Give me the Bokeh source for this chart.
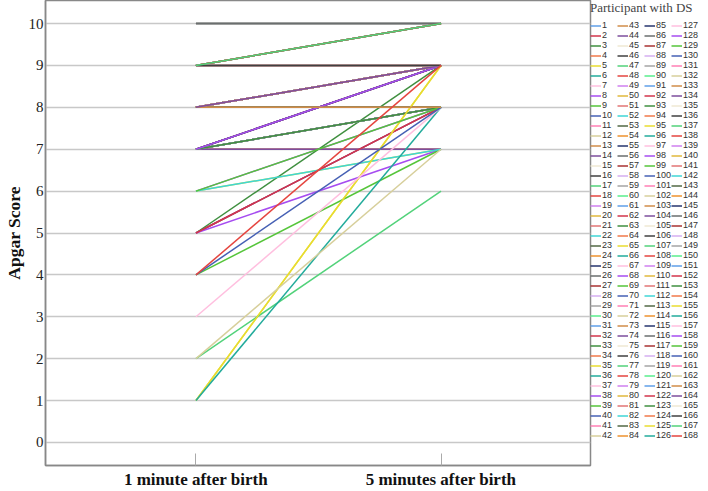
from bokeh.plotting import figure
from bokeh.models import Range1d, FixedTicker, Legend, LegendItem, ColumnDataSource
from bokeh.embed import file_html
from bokeh.resources import INLINE

# Apgar scores per participant (1..168)
apgar_1min = [
    8, 8, 9, 8, 9, 8, 9, 8, 7, 8,
    9, 8, 8, 8, 9, 9, 8, 7, 8, 9,
    8, 9, 8, 7, 9, 8, 8, 8, 9, 9,
    8, 9, 7, 8, 8, 9, 9, 7, 8, 10,
    8, 9, 8, 8, 9, 9, 8, 7, 8, 8,
    9, 9, 8, 7, 8, 9, 8, 7, 8, 8,
    9, 5, 8, 9, 8, 9, 8, 6, 8, 7,
    9, 8, 9, 8, 8, 10, 9, 8, 7, 8,
    9, 7, 9, 8, 8, 9, 7, 8, 9, 8,
    8, 9, 7, 8, 6, 9, 8, 7, 9, 8,
    8, 10, 9, 5, 9, 8, 7, 9, 8, 8,
    8, 9, 9, 8, 7, 8, 7, 9, 8, 9,
    8, 9, 5, 8, 1, 7, 9, 5, 4, 8,
    9, 8, 9, 7, 8, 8, 2, 9, 7, 8,
    9, 6, 7, 8, 9, 10, 9, 8, 7, 9,
    8, 5, 7, 8, 1, 1, 3, 7, 6, 4,
    9, 2, 8, 8, 9, 9, 9, 4,
]
apgar_5min = [
    9, 9, 9, 9, 10, 9, 9, 9, 8, 9,
    9, 9, 8, 9, 10, 9, 9, 9, 9, 9,
    9, 10, 9, 8, 9, 9, 8, 9, 9, 10,
    9, 9, 8, 9, 9, 10, 9, 9, 9, 10,
    9, 9, 8, 9, 10, 9, 9, 8, 9, 9,
    9, 10, 9, 9, 9, 9, 9, 8, 8, 9,
    9, 8, 9, 10, 9, 9, 9, 8, 9, 8,
    9, 9, 10, 8, 9, 10, 9, 9, 9, 9,
    10, 8, 9, 9, 9, 9, 7, 9, 10, 8,
    9, 9, 8, 9, 7, 10, 9, 9, 9, 9,
    9, 10, 9, 8, 10, 9, 8, 9, 9, 8,
    9, 10, 9, 9, 9, 9, 8, 9, 9, 10,
    9, 9, 9, 9, 9, 8, 10, 7, 7, 9,
    9, 8, 10, 7, 9, 8, 6, 9, 8, 9,
    10, 7, 9, 9, 9, 10, 10, 9, 8, 9,
    9, 8, 8, 9, 9, 8, 8, 9, 8, 8,
    9, 7, 8, 9, 9, 9, 10, 9,
]
time_labels = ["1 minute after birth", "5 minutes after birth"]
y_ticks = [0, 1, 2, 3, 4, 5, 6, 7, 8, 9, 10]

palette = [
    "#5f9fe8", "#d2354b", "#3f8f3f", "#f0784a", "#e8dc30", "#22ab9b",
    "#ffbfdf", "#a64cf0", "#55c53a", "#4660b4", "#ff7fb5", "#d7cf9b",
    "#d08c48", "#7d4e9d", "#efe9d3", "#404040", "#52d27a", "#e5453f",
    "#cf7fef", "#e0b83c", "#e27474", "#3fd6d6", "#526845", "#ee922e",
    "#26346e", "#6a6e6e", "#a83232", "#d5aef0", "#a5a5a5", "#58ee8c",
]

n = len(apgar_1min)
ids = [str(i + 1) for i in range(n)]
colors = [palette[i % len(palette)] for i in range(n)]
src = ColumnDataSource(dict(
    xs=[[1, 2] for _ in range(n)],
    ys=[[a, b] for a, b in zip(apgar_1min, apgar_5min)],
    color=colors,
    pid=ids,
))

p = figure(frame_width=545, frame_height=465, output_backend="svg", toolbar_location=None,
           x_range=Range1d(0.386, 2.61), y_range=Range1d(-0.55, 10.55),
           min_border_left=0, min_border_top=0, min_border_right=0, min_border_bottom=0)

r = p.multi_line(xs="xs", ys="ys", line_color="color", line_width=1.5, source=src)

# axes
p.xaxis.ticker = FixedTicker(ticks=[1, 2])
p.xaxis.major_label_overrides = {1: time_labels[0], 2: time_labels[1]}
p.xaxis.major_label_text_font = "Liberation Serif"
p.xaxis.major_label_text_font_style = "bold"
p.xaxis.major_label_text_font_size = "17px"
p.xaxis.major_label_text_color = "#111111"
p.xaxis.major_tick_in = 12
p.xaxis.major_tick_out = 0
p.xaxis.major_tick_line_color = "#aaaaaa"
p.xaxis.minor_tick_line_color = None
p.xaxis.axis_line_color = "#888888"
p.xaxis.axis_line_width = 1.5
p.xaxis.major_label_standoff = 4

p.yaxis.ticker = FixedTicker(ticks=y_ticks)
p.yaxis.axis_label = "Apgar Score"
p.yaxis.axis_label_text_font = "Liberation Serif"
p.yaxis.axis_label_text_font_style = "bold"
p.yaxis.axis_label_text_font_size = "17.5px"
p.yaxis.axis_label_text_color = "#111111"
p.yaxis.axis_label_standoff = 2
p.yaxis.major_label_text_font = "Liberation Serif"
p.yaxis.major_label_text_font_size = "15px"
p.yaxis.major_label_text_color = "#222222"
p.yaxis.major_label_standoff = 2
p.yaxis.major_tick_in = 0
p.yaxis.major_tick_out = 0
p.yaxis.minor_tick_line_color = None
p.yaxis.axis_line_color = "#888888"
p.yaxis.axis_line_width = 1.5

p.xgrid.grid_line_color = None
p.ygrid.grid_line_color = "#c8c8c8"
p.ygrid.grid_line_width = 1.3

p.outline_line_color = "#888888"
p.outline_line_width = 1.5
p.background_fill_color = "white"

items = [LegendItem(label=ids[i], renderers=[r], index=i) for i in range(n)]
legend = Legend(items=items, nrows=42, orientation="vertical",
                title="Participant with DS",
                title_text_font="Liberation Serif", title_text_font_size="13px",
                title_text_font_style="normal", title_standoff=4,
                label_text_font="Liberation Sans", label_text_font_size="9px",
                label_text_color="#333333",
                label_height=9, label_width=15, label_standoff=1,
                glyph_width=11, glyph_height=9,
                spacing=0, padding=5, margin=0,
                border_line_color=None, background_fill_alpha=0,
                location="top_left")
p.add_layout(legend, "right")

open("out.html", "w").write(file_html(p, INLINE))
